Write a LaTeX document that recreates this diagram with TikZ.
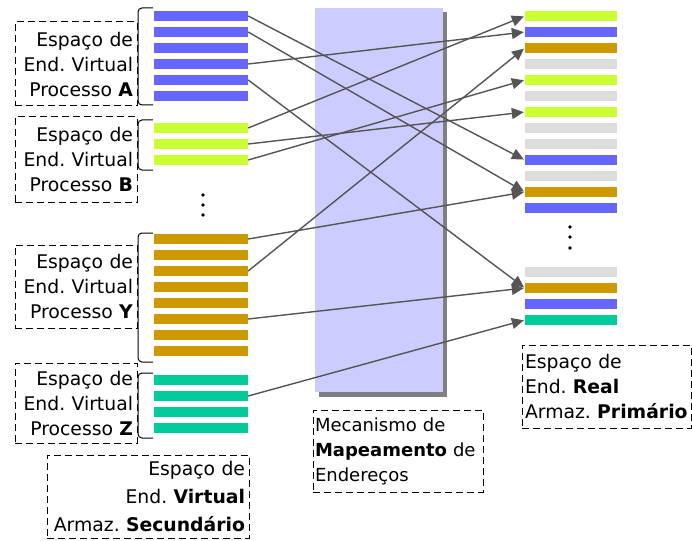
\documentclass[tikz,border=0pt]{standalone}
\usepackage{fontspec}
\setmainfont{DejaVu Sans}
\usetikzlibrary{arrows.meta}
\frenchspacing
\definecolor{pgblue}{RGB}{102,102,255}
\definecolor{pglime}{RGB}{204,255,51}
\definecolor{pgorange}{RGB}{204,153,0}
\definecolor{pgteal}{RGB}{0,204,153}
\definecolor{pgfree}{RGB}{221,221,221}
\definecolor{mmu}{RGB}{204,204,255}
\definecolor{arrowgray}{RGB}{85,85,85}
\tikzset{
  vbar/.style={draw=none,minimum width=94pt,minimum height=10.5pt,inner sep=0pt},
  rbar/.style={draw=none,minimum width=92pt,minimum height=10.5pt,inner sep=0pt},
  lbl/.style={draw,dash pattern=on 7pt off 4pt,line width=1pt,inner xsep=4pt,inner ysep=0pt,font=\fontsize{18.8}{25}\selectfont},
  map/.style={-{Triangle[length=12pt,width=11pt]},line width=1.4pt,draw=arrowgray,fill=arrowgray,shorten >=1pt},
  bracket/.style={line width=1pt,rounded corners=4pt}
}
\begin{document}
\begin{tikzpicture}[x=1pt,y=-1pt]
  \useasboundingbox (0,0) rectangle (692,540);
  % mapping unit with its shadow
  \fill[gray] (319,12) rectangle (447,397);
  \fill[mmu] (315,8) rectangle (443,392);
  % virtual pages, process A
  \node[vbar,fill=pgblue] (a1) at (201,16) {}; \node[vbar,fill=pgblue] (a2) at (201,32) {};
  \node[vbar,fill=pgblue] (a3) at (201,48) {}; \node[vbar,fill=pgblue] (a4) at (201,64) {};
  \node[vbar,fill=pgblue] (a5) at (201,80) {}; \node[vbar,fill=pgblue] (a6) at (201,96) {};
  % process B
  \node[vbar,fill=pglime] (b1) at (201,128) {}; \node[vbar,fill=pglime] (b2) at (201,144) {};
  \node[vbar,fill=pglime] (b3) at (201,160) {};
  % process Y
  \node[vbar,fill=pgorange] (y1) at (201,239) {}; \node[vbar,fill=pgorange] (y2) at (201,255) {};
  \node[vbar,fill=pgorange] (y3) at (201,271) {}; \node[vbar,fill=pgorange] (y4) at (201,287) {};
  \node[vbar,fill=pgorange] (y5) at (201,303) {}; \node[vbar,fill=pgorange] (y6) at (201,319) {};
  \node[vbar,fill=pgorange] (y7) at (201,335) {}; \node[vbar,fill=pgorange] (y8) at (201,351) {};
  % process Z
  \node[vbar,fill=pgteal] (z1) at (201,380) {}; \node[vbar,fill=pgteal] (z2) at (201,396) {};
  \node[vbar,fill=pgteal] (z3) at (201,412) {}; \node[vbar,fill=pgteal] (z4) at (201,428) {};
  % brackets
  \draw[bracket] (153,8) -- (138,8) -- (138,105) -- (153,105);
  \draw[bracket] (153,120) -- (138,120) -- (138,170) -- (153,170);
  \draw[bracket] (153,233) -- (138,233) -- (138,362) -- (153,362);
  \draw[bracket] (153,373) -- (138,373) -- (138,438) -- (153,438);
  \foreach \yy in {195,205,215} \fill (203,\yy) circle (1.8);
  % real frames
  \node[rbar,fill=pglime] (r1) at (571,16) {}; \node[rbar,fill=pgblue] (r2) at (571,32) {};
  \node[rbar,fill=pgorange] (r3) at (571,48) {}; \node[rbar,fill=pgfree] (r4) at (571,64) {};
  \node[rbar,fill=pglime] (r5) at (571,80) {}; \node[rbar,fill=pgfree] (r6) at (571,96) {};
  \node[rbar,fill=pglime] (r7) at (571,112) {}; \node[rbar,fill=pgfree] (r8) at (571,128) {};
  \node[rbar,fill=pgfree] (r9) at (571,144) {}; \node[rbar,fill=pgblue] (r10) at (571,160) {};
  \node[rbar,fill=pgfree] (r11) at (571,176) {}; \node[rbar,fill=pgorange] (r12) at (571,192) {};
  \node[rbar,fill=pgblue] (r13) at (571,208) {};
  \foreach \yy in {227,237,248} \fill (570,\yy) circle (1.8);
  \node[rbar,fill=pgfree] (s1) at (571,272) {}; \node[rbar,fill=pgorange] (s2) at (571,288) {};
  \node[rbar,fill=pgblue] (s3) at (571,304) {}; \node[rbar,fill=pgteal] (s4) at (571,320) {};
  % page -> frame mapping
  \draw[map] (a1.east) -- (r10.west); \draw[map] (a2.east) -- (r12.west);
  \draw[map] (a4.east) -- (r2.west); \draw[map] (a5.east) -- (s2.west);
  \draw[map] (b1.east) -- (r1.west); \draw[map] (b2.east) -- (r7.west); \draw[map] (b3.east) -- (r5.west);
  \draw[map] (y1.east) -- (r12.west); \draw[map] (y3.east) -- (r3.west); \draw[map] (y6.east) -- (s2.west);
  \draw[map] (z2.east) -- (s4.west);
  % labels
  \node[lbl,minimum width=122pt,minimum height=84pt,text width=114pt,align=right] (la) at (76,64) {Espaço de\\End. Virtual\\Processo \textbf{A}};
  \node[lbl,minimum width=122pt,minimum height=85pt,text width=114pt,align=right] (lb) at (76,159.5) {Espaço de\\End. Virtual\\Processo \textbf{B}};
  \node[lbl,minimum width=122pt,minimum height=83pt,text width=114pt,align=right] (ly) at (76,286.5) {Espaço de\\End. Virtual\\Processo \textbf{Y}};
  \node[lbl,minimum width=122pt,minimum height=80pt,text width=114pt,align=right] (lz) at (76,403) {Espaço de\\End. Virtual\\Processo \textbf{Z}};
  \node[lbl,minimum width=200pt,minimum height=83pt,text width=194pt,align=right,font=\fontsize{18.8}{28}\selectfont] (lsec) at (148,496.5) {Espaço de\\End. \textbf{Virtual}\\Armaz. \textbf{Secundário}};
  \node[lbl,minimum width=170pt,minimum height=82pt,text width=166pt,align=left,inner xsep=2pt,font=\fontsize{18}{25}\selectfont] (lmap) at (398,451) {Mecanismo de\\\textbf{Mapeamento} de\\Endereços};
  \node[lbl,minimum width=169pt,minimum height=83pt,text width=163pt,align=left,inner xsep=3pt] (lreal) at (606.5,386.5) {Espaço de\\End. \textbf{Real}\\Armaz. \textbf{Primário}};
\end{tikzpicture}
\end{document}
